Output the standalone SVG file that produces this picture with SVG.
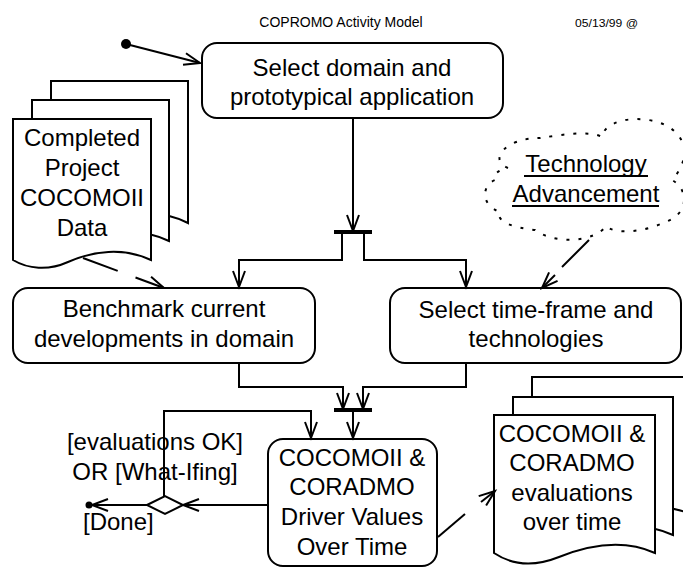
<svg xmlns="http://www.w3.org/2000/svg" width="683" height="568" viewBox="0 0 683 568">
<style>
text{font-family:"Liberation Sans",Arial,sans-serif;fill:#000}
.t{font-size:24px;text-anchor:middle}
.box{fill:#fff;stroke:#000;stroke-width:2}
.page{fill:#fff;stroke:#000;stroke-width:2;stroke-linejoin:miter}
.c{fill:none;stroke:#000;stroke-width:2}
.dash{stroke-dasharray:37 19}
.bar{stroke:#000;stroke-width:4}
</style>
<defs>
<marker id="ar" markerUnits="userSpaceOnUse" viewBox="-18 -8 20 16" refX="0" refY="0" markerWidth="20" markerHeight="16" orient="auto" overflow="visible">
<path d="M-16,-6 L0,0 L-16,6" fill="none" stroke="#000" stroke-width="2"/>
</marker>
</defs>
<rect width="683" height="568" fill="#fff"/>
<text x="341" y="27" style="font-size:14px" text-anchor="middle">COPROMO Activity Model</text>
<text x="575" y="27" style="font-size:11px" textLength="63" lengthAdjust="spacingAndGlyphs">05/13/99 @</text>

<g id="start"><circle cx="126" cy="44" r="5" fill="#000"/></g>

<g id="select-domain">
<rect class="box" x="202" y="43" width="301" height="75" rx="15"/>
<text class="t" x="352" y="76">Select domain and</text>
<text class="t" x="352" y="105">prototypical application</text>
</g>

<g id="completed-data">
<path class="page" transform="translate(51,81)" d="M0,0 H137 V142 C110,128 80,132 55,143 C35,152 15,150 0,141 Z"/>
<path class="page" transform="translate(32,100)" d="M0,0 H137 V141 C110,128 80,132 55,143 C35,152 15,150 0,141 Z"/>
<path class="page" transform="translate(13,119)" d="M0,0 H138 V141 C110,128 80,132 55,143 C35,152 15,150 0,141 Z"/>
<text class="t" x="82" y="146">Completed</text>
<text class="t" x="82" y="176">Project</text>
<text class="t" x="82" y="206">COCOMOII</text>
<text class="t" x="82" y="236">Data</text>
</g>

<g id="tech-advancement">
<path d="M508,168 C488,160 505,138 540,138 C560,135 590,130 602,137 C605,115 660,112 678,135 C690,150 683,168 672,180 C690,190 688,215 665,222 C645,232 615,235 606,226 C595,242 555,245 535,230 C515,228 495,222 500,212 C480,205 482,185 495,180 C492,175 498,170 508,168 Z" fill="none" stroke="#000" stroke-width="2" stroke-dasharray="3 9"/>
<text class="t" x="586" y="172">Technology</text>
<text class="t" x="586" y="202">Advancement</text>
<line x1="524" y1="176" x2="648" y2="176" stroke="#000" stroke-width="2"/>
<line x1="512" y1="206" x2="659" y2="206" stroke="#000" stroke-width="2"/>
</g>

<g id="benchmark">
<rect class="box" x="13" y="288" width="302" height="75" rx="15"/>
<text class="t" x="164" y="317">Benchmark current</text>
<text class="t" x="164" y="347">developments in domain</text>
</g>

<g id="timeframe">
<rect class="box" x="390" y="288" width="291" height="75" rx="15"/>
<text class="t" x="536" y="318">Select time-frame and</text>
<text class="t" x="536" y="347">technologies</text>
</g>

<g id="fork"><line class="bar" x1="334" y1="232" x2="372" y2="232"/></g>
<g id="join"><line class="bar" x1="334" y1="410" x2="372" y2="410"/></g>

<g id="driver-values">
<rect class="box" x="268" y="439" width="169" height="127" rx="15"/>
<text class="t" x="352" y="466">COCOMOII &amp;</text>
<text class="t" x="352" y="495">CORADMO</text>
<text class="t" x="352" y="525">Driver Values</text>
<text class="t" x="352" y="555">Over Time</text>
</g>

<g id="decision"><path d="M147,505 L165,496 L183,505 L165,514 Z" fill="#fff" stroke="#000" stroke-width="2"/></g>
<g id="end"><circle cx="89" cy="505" r="3.5" fill="#000"/></g>

<g id="evaluations">
<path class="page" transform="translate(532,377)" d="M0,0 H161 V138 C130,124 95,130 65,142 C40,152 18,150 0,138 Z"/>
<path class="page" transform="translate(513,397)" d="M0,0 H160 V138 C130,124 95,130 65,142 C40,152 18,150 0,138 Z"/>
<path class="page" transform="translate(494,415)" d="M0,0 H161 V138 C130,124 95,130 65,142 C40,152 18,150 0,138 Z"/>
<text class="t" x="572" y="442">COCOMOII &amp;</text>
<text class="t" x="572" y="471">CORADMO</text>
<text class="t" x="572" y="501">evaluations</text>
<text class="t" x="572" y="530">over time</text>
</g>

<g id="labels">
<text class="t" x="155" y="450">[evaluations OK]</text>
<text class="t" x="155" y="480">OR [What-Ifing]</text>
<text x="83" y="530" style="font-size:24px">[Done]</text>
</g>

<g id="connectors">
<path class="c" d="M126,44 L200,63" marker-end="url(#ar)"/>
<path class="c" d="M353,118 V231" marker-end="url(#ar)"/>
<path class="c" d="M342,232 V260 H239 V287" marker-end="url(#ar)"/>
<path class="c" d="M364,232 V260 H466 V287" marker-end="url(#ar)"/>
<path class="c dash" d="M83,258 L164,288" marker-end="url(#ar)"/>
<path class="c" d="M589,240 L562,267"/>
<path class="c" d="M555,275 L542,288" marker-end="url(#ar)"/>
<path class="c" d="M239,363 V387 H343 V409" marker-end="url(#ar)"/>
<path class="c" d="M466,363 V387 H363 V409" marker-end="url(#ar)"/>
<path class="c" d="M353,410 V438" marker-end="url(#ar)"/>
<path class="c" d="M164,496 V411 H311 V438" marker-end="url(#ar)"/>
<path class="c" d="M268,505 H183" marker-end="url(#ar)"/>
<path class="c" d="M147,505 H92" marker-end="url(#ar)"/>
<path class="c" d="M438,537 L465,514"/>
<path class="c" d="M481,502 L495,491" marker-end="url(#ar)"/>
</g>
</svg>
